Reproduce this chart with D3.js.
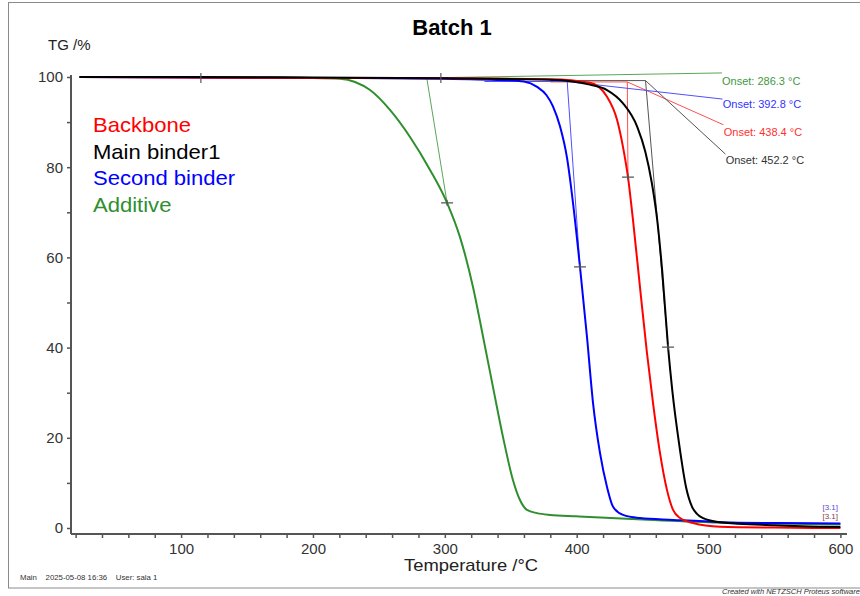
<!DOCTYPE html>
<html>
<head>
<meta charset="utf-8">
<script src="https://cdn.jsdelivr.net/npm/d3@7/dist/d3.min.js"></script>
<style>
  html, body { margin: 0; padding: 0; background: #fff; }
  svg { display: block; font-family: "Liberation Sans", Arial, sans-serif; }
</style>
</head>
<body>
<svg id="chart" width="860" height="596"></svg>
<script>
// ---------------- DATA ----------------
const chartTitle = "Batch 1";
const yAxisTitle = "TG /%";
const xAxisTitle = "Temperature /°C";
const seriesNames = ["Backbone", "Main binder1", "Second binder", "Additive"];
const seriesColors = ["#ff0000", "#000000", "#0000ff", "#2f8f2f"];

const xTickLabels = [100, 200, 300, 400, 500, 600];
const yTickLabels = [0, 20, 40, 60, 80, 100];

// [Temperature °C, TG %]
const backbone = [[23,100],[100,99.9],[200,99.8],[300,99.7],[380,99.5],[410,98.7],[423,95.6],[430.6,90.5],[435.1,84.5],[438.9,77.8],[442.7,68.3],[448,53.4],[453.3,38.8],[457.9,27.7],[463.2,16.6],[468.5,8.4],[473.1,4.0],[478.4,2.2],[488.2,1.1],[508.7,0.3],[550,0.1],[600,0.0]];
const mainBinder1 = [[23,100],[100,100],[200,99.9],[300,99.7],[380,99.4],[397,99.0],[410,98.3],[423,97.1],[435,94.2],[446,88.9],[452,83.5],[457,76.5],[461,68.5],[465,56.5],[469.3,40.1],[472.5,30.5],[477.6,18.8],[482.9,9.1],[487.5,4.7],[491,3.2],[495.8,2.2],[508.7,1.3],[550,0.6],[600,0.2]];
const secondBinder = [[23,100],[100,99.9],[200,99.8],[300,99.6],[347,99.3],[360,99.0],[370,97.8],[377,96.0],[382,93.5],[387.4,89.0],[392.7,82.0],[397.2,72.1],[402.5,57.9],[407.8,42.4],[412.4,27.7],[417.7,16.6],[423,9.1],[427.6,4.7],[435.2,2.9],[448,2.2],[473,1.8],[509,1.3],[550,1.1],[600,1.0]];
const additive = [[23,100],[100,100],[150,99.9],[200,99.8],[220.5,99.6],[231.9,98.9],[243.3,97.1],[258.4,92.7],[273.6,86.7],[288.8,79.4],[301.7,72.1],[311.5,64.5],[321.4,53.4],[329,42.4],[336.5,31.3],[344.1,20.2],[351.7,10.6],[357,6.2],[362.3,4.0],[369.9,3.3],[379.8,2.9],[400,2.6],[450,1.9],[500,1.3],[550,1.0],[600,0.8]];

// Onset evaluation: onset temperature, baseline TG, inflection point [T, TG]
const onsetTemps = [438.4, 452.2, 392.8, 286.3];
const onsetBaseTG = [98.9, 99.2, 99.0, 99.8];
const baselineStartT = [380, 380, 330, 115];
const inflections = [[438.9,77.8],[469.3,40.1],[402.5,57.9],[301.7,72.1]];
const onsetLabels = ["Onset: 438.4 °C", "Onset: 452.2 °C", "Onset: 392.8 °C", "Onset: 286.3 °C"];
// label anchor in data coordinates (connector end / label centre)
const labelEndT = [511.3, 512.8, 510.6, 510.2];
const labelEndTG = [89.4, 82.9, 95.1, 100.9];
const labelTextT = [511.5, 513.0, 510.8, 510.2];
const labelTextTG = [87.8, 81.6, 94.0, 99.1];
const greenBaseMarks = [115, 297];
const endLabel = "[3.1]";
const endLabelTG = [4.1, 2.0];

const footerLeft = "Main    2025-05-08 16:36    User: sala 1";
const footerRight = "Created with NETZSCH Proteus software";

// ---------------- DRAW ----------------
const svg = d3.select("#chart");

const x = d3.scaleLinear().domain([16.5, 605]).range([71, 847]);
const y = d3.scaleLinear().domain([-1.33, 100.44]).range([534, 75]);

// outer frame
svg.append("rect").attr("x", 8.5).attr("y", 2.5).attr("width", 870).attr("height", 585.5)
  .attr("fill", "none").attr("stroke", "#8a8a8a").attr("stroke-width", 1);

// title
svg.append("text").attr("x", 452).attr("y", 35).attr("text-anchor", "middle")
  .attr("font-size", 22).attr("font-weight", "bold").attr("fill", "#000").text(chartTitle);

// axes
const axisColor = "#555";
const yAxis = d3.axisLeft(y).tickValues(d3.range(0, 101, 10)).tickSize(4)
  .tickFormat(d => yTickLabels.includes(d) ? d : "");
const gy = svg.append("g").attr("transform", `translate(${x.range()[0]},0)`).call(yAxis);
const xAxis = d3.axisBottom(x).tickValues(d3.range(20, 601, 20)).tickSize(4)
  .tickFormat(d => xTickLabels.includes(d) ? d : "");
const gx = svg.append("g").attr("transform", `translate(0,${y.range()[0]})`).call(xAxis);

[gx, gy].forEach(g => {
  g.select(".domain").attr("stroke", axisColor).attr("stroke-width", 2);
  g.selectAll(".tick line").attr("stroke", axisColor).attr("stroke-width", 1.5);
  g.selectAll(".tick text").attr("font-size", 15).attr("fill", "#333")
    .attr("font-family", "'Liberation Sans', Arial, sans-serif");
});
gy.select(".domain").attr("d", `M0,${y.range()[0]}V${y.range()[1]}`);
gx.select(".domain").attr("d", `M${x.range()[0]},0H${x.range()[1]}`);
gy.selectAll(".tick text").attr("x", -8);
gx.selectAll(".tick text").attr("y", 9);

svg.append("text").attr("x", 48).attr("y", 50).attr("font-size", 15).attr("fill", "#222").text(yAxisTitle);
svg.append("text").attr("transform", "translate(471,571) scale(1.15,1)").attr("text-anchor", "middle")
  .attr("font-size", 16).attr("fill", "#222").text(xAxisTitle);

// onset construction lines
const conLine = svg.append("g");
const lightColors = ["#ff5050", "#555555", "#5050ff", "#5aa55a"];
onsetTemps.forEach((t, i) => {
  const c = lightColors[i];
  conLine.append("line").attr("x1", x(baselineStartT[i])).attr("x2", x(t))
    .attr("y1", y(onsetBaseTG[i])).attr("y2", y(onsetBaseTG[i]))
    .attr("stroke", c).attr("stroke-width", 1);
  conLine.append("line").attr("x1", x(t)).attr("y1", y(onsetBaseTG[i]))
    .attr("x2", x(inflections[i][0])).attr("y2", y(inflections[i][1]))
    .attr("stroke", c).attr("stroke-width", 1);
  conLine.append("line").attr("x1", x(t)).attr("y1", y(onsetBaseTG[i]))
    .attr("x2", x(labelEndT[i])).attr("y2", y(labelEndTG[i]))
    .attr("stroke", c).attr("stroke-width", 1);
});

// curves
const line = d3.line().x(d => x(d[0])).y(d => y(d[1])).curve(d3.curveMonotoneX);
const allSeries = [additive, secondBinder, backbone, mainBinder1];
const allColors = [seriesColors[3], seriesColors[2], seriesColors[0], seriesColors[1]];
allSeries.forEach((s, i) => {
  svg.append("path").datum(s).attr("d", line).attr("fill", "none")
    .attr("stroke", allColors[i]).attr("stroke-width", 2);
});

// inflection crosses
inflections.forEach(p => {
  const cx = x(p[0]), cy = y(p[1]);
  svg.append("path").attr("d", `M${cx-6},${cy}H${cx+6}M${cx},${cy-3}V${cy+3}`)
    .attr("stroke", "#555").attr("stroke-width", 1.2);
});
// green baseline marks
greenBaseMarks.forEach(t => {
  const cx = x(t), cy = y(onsetBaseTG[3]);
  svg.append("path").attr("d", `M${cx},${cy-5}V${cy+5}`).attr("stroke", "#556").attr("stroke-width", 1.2);
});

// onset labels
const labelColors = ["#ff3030", "#333333", "#3333ff", "#3f983f"];
onsetLabels.forEach((s, i) => {
  svg.append("text").attr("x", x(labelTextT[i])).attr("y", y(labelTextTG[i]))
    .attr("dy", "0.35em").attr("font-size", 11).attr("fill", labelColors[i]).text(s);
});

// end labels
["#5a4ad0", "#8a3a50"].forEach((c, i) => {
  svg.append("text").attr("x", x(600) - 18).attr("y", y(endLabelTG[i]))
    .attr("font-size", 8).attr("fill", c).text(endLabel);
});

// legend
seriesNames.forEach((name, i) => {
  svg.append("text").attr("transform", `translate(93,${132 + i * 26.7}) scale(1.05,1)`)
    .attr("font-size", 21).attr("fill", seriesColors[i]).text(name);
});

// footers
svg.append("text").attr("x", 20).attr("y", 580).attr("font-size", 7.8).attr("fill", "#333")
  .attr("xml:space", "preserve").style("white-space", "pre").text(footerLeft);
svg.append("text").attr("x", 722).attr("y", 594).attr("font-size", 7.5).attr("font-style", "italic")
  .attr("fill", "#333").text(footerRight);
</script>
</body>
</html>
